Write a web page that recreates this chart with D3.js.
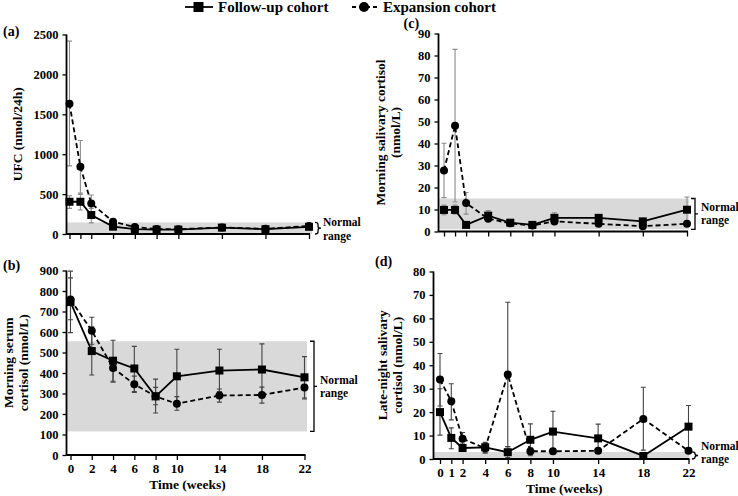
<!DOCTYPE html>
<html><head><meta charset="utf-8">
<script src="https://cdn.jsdelivr.net/npm/d3@7"></script>
<style>
html,body{margin:0;padding:0;background:#fff;}
svg{display:block;}
svg text{font-family:"Liberation Serif","Times New Roman",serif;font-weight:bold;}
</style></head>
<body><svg id="chart" width="738" height="496"></svg>
<script>
// ---------- DATA ----------
const weeksACD = [0, 1, 2, 4, 6, 8, 10, 14, 18, 22];
const weeksB = [0, 2, 4, 6, 8, 10, 14, 18, 22];
const seriesNames = ["Follow-up cohort", "Expansion cohort"];

// (a) UFC (nmol/24h)
const ufcFollow = [404, 404, 238, 92, 62, 55, 55, 80, 60, 90];
const ufcFollowLo = [321, 300, 140, 72, 48, 42, 42, 62, 46, 72];
const ufcFollowHi = [479, 496, 320, 112, 78, 68, 68, 98, 74, 108];
const ufcExpansion = [1633, 842, 383, 155, 87, 62, 60, 82, 65, 100];
const ufcExpansionLo = [854, 512, 280, 130, 70, 50, 48, 66, 52, 82];
const ufcExpansionHi = [2417, 1171, 488, 180, 104, 74, 72, 98, 78, 118];
const ufcNormal = [0, 145];
const ufcTicks = [0, 500, 1000, 1500, 2000, 2500];

// (b) Morning serum cortisol (nmol/L)
const serumFollow = [746, 507, 460, 422, 286, 384, 412, 417, 379];
const serumFollowLo = [597, 390, 360, 310, 205, 252, 310, 292, 278];
const serumFollowHi = [864, 625, 560, 530, 370, 516, 516, 542, 480];
const serumExpansion = [758, 606, 425, 345, 286, 250, 290, 293, 329];
const serumExpansionLo = [660, 540, 355, 305, 245, 218, 258, 253, 273];
const serumExpansionHi = [897, 672, 470, 385, 330, 285, 322, 331, 385];
const serumNormal = [115, 555];
const serumTicks = [0, 100, 200, 300, 400, 500, 600, 700, 800, 900];

// (c) Morning salivary cortisol (nmol/L)
const msFollow = [9.8, 9.8, 3.0, 7.2, 4.0, 3.0, 6.2, 6.2, 4.6, 9.9];
const msFollowLo = [7.6, 8.0, 2.5, 5.0, 3.3, 1.8, 4.3, 5.0, 3.6, 4.2];
const msFollowHi = [12.0, 12.0, 3.5, 9.5, 4.7, 4.5, 8.5, 7.6, 5.6, 15.7];
const msExpansion = [27.7, 48.1, 12.9, 5.8, 3.7, 2.7, 4.6, 3.5, 2.4, 3.5];
const msExpansionLo = [15.4, 13.4, 7.9, 4.6, 3.0, 1.5, 3.6, 2.8, 1.8, 2.8];
const msExpansionHi = [40.1, 82.8, 17.7, 7.0, 4.4, 4.5, 5.6, 4.2, 3.0, 4.2];
const msNormal = [1, 15];
const msTicks = [0, 10, 20, 30, 40, 50, 60, 70, 80, 90];

// (d) Late-night salivary cortisol (nmol/L)
const lnFollow = [20, 9, 4.7, 5, 2.9, 8.2, 11.7, 8.8, 1.3, 13.8];
const lnFollowLo = [10.2, 4.4, 3.2, 2.9, 0.6, 1.4, 3.0, 2.7, 0, 4.8];
const lnFollowHi = [30, 13.3, 6.2, 7.1, 5.2, 15.0, 20.4, 14.9, 2.6, 22.8];
const lnExpansion = [33.9, 24.6, 8.6, 4.6, 36.1, 3.3, 3.3, 3.5, 17.1, 3.5];
const lnExpansionLo = [22.6, 16.7, 6.4, 2.5, 5.3, 1.8, 2.3, 2.5, 3.8, 2.5];
const lnExpansionHi = [45, 32.1, 11.3, 6.5, 66.9, 4.8, 4.3, 4.5, 30.6, 4.5];
const lnNormal = [0, 3];
const lnTicks = [0, 10, 20, 30, 40, 50, 60, 70, 80];

const normalLabel = ["Normal", "range"];
const xTitle = "Time (weeks)";

// ---------- LAYOUT ----------
const svg = d3.select("#chart");
const FONT_TICK = 12.5;

const panels = [
  { tag: "(a)", tagPos: [3, 36], weeks: weeksACD, fu: [ufcFollow, ufcFollowLo, ufcFollowHi], ex: [ufcExpansion, ufcExpansionLo, ufcExpansionHi],
    normal: ufcNormal, ticks: ufcTicks, yMax: 2500, axisX: 66.5, xr: [69.5, 309], yr: [234, 34.5], bandRight: 312,
    xLabels: false, ylab: ["UFC (nmol/24h)"], ylabX: 17, errColor: "#8c8c8c", bracket: "brace", brX: 315, txtX: 323 },
  { tag: "(b)", tagPos: [3, 270], weeks: weeksB, fu: [serumFollow, serumFollowLo, serumFollowHi], ex: [serumExpansion, serumExpansionLo, serumExpansionHi],
    normal: serumNormal, ticks: serumTicks, yMax: 900, axisX: 66.5, xr: [70.5, 304.5], yr: [455, 270.5], bandRight: 307,
    xLabels: true, ylab: ["Morning serum", "cortisol (nmol/L)"], ylabX: 8, errColor: "#444", bracket: "square", brX: 314, txtX: 320 },
  { tag: "(c)", tagPos: [403.5, 28], weeks: weeksACD, fu: [msFollow, msFollowLo, msFollowHi], ex: [msExpansion, msExpansionLo, msExpansionHi],
    normal: msNormal, ticks: msTicks, yMax: 90, axisX: 438.5, xr: [444, 687], yr: [231.5, 33.5], bandRight: 689,
    xLabels: false, ylab: ["Morning salivary cortisol", "(nmol/L)"], ylabX: 380, errColor: "#8c8c8c", bracket: "square", brX: 695, txtX: 701 },
  { tag: "(d)", tagPos: [375, 266], weeks: weeksACD, fu: [lnFollow, lnFollowLo, lnFollowHi], ex: [lnExpansion, lnExpansionLo, lnExpansionHi],
    normal: lnNormal, ticks: lnTicks, yMax: 80, axisX: 433.5, xr: [440, 688.5], yr: [459, 271.5], bandRight: 689,
    xLabels: true, ylab: ["Late-night salivary", "cortisol (nmol/L)"], ylabX: 382, errColor: "#444", bracket: "brace", brX: 692, txtX: 701 }
];

function bracePath(x, y1, y2, w) {
  const ym = (y1 + y2) / 2, q = Math.min(2, (y2 - y1) / 4);
  return `M${x},${y1} Q${x + w / 2},${y1} ${x + w / 2},${y1 + q} L${x + w / 2},${ym - q} Q${x + w / 2},${ym} ${x + w},${ym}` +
         ` Q${x + w / 2},${ym} ${x + w / 2},${ym + q} L${x + w / 2},${y2 - q} Q${x + w / 2},${y2} ${x},${y2}`;
}

panels.forEach(p => {
  const g = svg.append("g");
  const x = d3.scaleLinear().domain([0, 22]).range(p.xr);
  const y = d3.scaleLinear().domain([0, p.yMax]).range(p.yr);

  // normal range band
  g.append("rect").attr("x", p.axisX).attr("width", p.bandRight - p.axisX)
    .attr("y", y(p.normal[1])).attr("height", y(p.normal[0]) - y(p.normal[1]))
    .attr("fill", "#d9d9d9");

  // bracket
  const yTop = y(p.normal[1]), yBot = y(p.normal[0]);
  if (p.bracket === "brace") {
    g.append("path").attr("d", bracePath(p.brX, yTop, yBot, 6)).attr("fill", "none").attr("stroke", "#000").attr("stroke-width", 1.3);
  } else {
    const ym = (yTop + yBot) / 2;
    g.append("path").attr("d", `M${p.brX - 4},${yTop} H${p.brX} V${yBot} H${p.brX - 4} M${p.brX},${ym} H${p.brX + 3}`)
      .attr("fill", "none").attr("stroke", "#000").attr("stroke-width", 1.3);
  }
  const tyMid = (yTop + yBot) / 2;
  let ty1 = tyMid - 6.5, ty2 = tyMid + 6.5;
  if (p.bracket === "brace") { ty1 = yTop + (p.tag === "(a)" ? 0 : -6); ty2 = ty1 + 13.5; }
  g.append("text").attr("x", p.txtX).attr("y", ty1).attr("dy", "0.35em").attr("font-size", 11.5).text(normalLabel[0]);
  g.append("text").attr("x", p.txtX).attr("y", ty2).attr("dy", "0.35em").attr("font-size", 11.5).text(normalLabel[1]);

  // error bars
  const drawErr = (vals) => {
    const [m, lo, hi] = vals;
    const eg = g.append("g").attr("stroke", p.errColor).attr("stroke-width", 1.1).attr("fill", "none");
    p.weeks.forEach((w, i) => {
      const cx = x(w);
      eg.append("path").attr("d", `M${cx},${y(lo[i])} V${y(hi[i])} M${cx - 2.5},${y(lo[i])} H${cx + 2.5} M${cx - 2.5},${y(hi[i])} H${cx + 2.5}`);
    });
  };
  drawErr(p.ex); drawErr(p.fu);

  // lines
  const line = d3.line().x((d, i) => x(p.weeks[i])).y(d => y(d));
  g.append("path").datum(p.ex[0]).attr("d", line).attr("fill", "none").attr("stroke", "#000")
    .attr("stroke-width", 1.8).attr("stroke-dasharray", "5,3");
  g.append("path").datum(p.fu[0]).attr("d", line).attr("fill", "none").attr("stroke", "#000").attr("stroke-width", 1.8);

  // markers
  g.selectAll(null).data(p.ex[0]).join("circle").attr("cx", (d, i) => x(p.weeks[i])).attr("cy", d => y(d)).attr("r", 4).attr("fill", "#000");
  g.selectAll(null).data(p.fu[0]).join("rect").attr("x", (d, i) => x(p.weeks[i]) - 4).attr("y", d => y(d) - 4)
    .attr("width", 8).attr("height", 8).attr("fill", "#000");

  // y axis
  const yAxis = d3.axisLeft(y).tickValues(p.ticks).tickSize(4).tickSizeOuter(0).tickFormat(d3.format("d")).tickPadding(4);
  const ya = g.append("g").attr("transform", `translate(${p.axisX},0)`).call(yAxis).attr("font-family", null).attr("font-size", null);
  ya.select(".domain").remove();
  ya.selectAll("text").attr("font-size", FONT_TICK).attr("fill", "#000");
  ya.selectAll("line").attr("stroke", "#000").attr("stroke-width", 1.3);
  g.append("line").attr("x1", p.axisX).attr("x2", p.axisX).attr("y1", p.yr[1]).attr("y2", p.yr[0] + 0.6).attr("stroke", "#000").attr("stroke-width", 1.8);

  // x axis
  const xAxis = d3.axisBottom(x).tickValues(p.weeks).tickSize(5).tickSizeOuter(0).tickPadding(4)
    .tickFormat(p.xLabels ? d3.format("d") : () => "");
  const xa = g.append("g").attr("transform", `translate(0,${p.yr[0]})`).call(xAxis).attr("font-family", null).attr("font-size", null);
  xa.select(".domain").remove();
  xa.selectAll("text").attr("font-size", FONT_TICK + 0.5).attr("fill", "#000");
  xa.selectAll("line").attr("stroke", "#000").attr("stroke-width", 1.3);
  g.append("line").attr("x1", p.axisX).attr("x2", p.xr[1] + 1).attr("y1", p.yr[0]).attr("y2", p.yr[0]).attr("stroke", "#000").attr("stroke-width", 1.8);

  if (p.xLabels) {
    g.append("text").attr("x", (p.xr[0] + p.xr[1]) / 2).attr("y", p.yr[0] + 34).attr("text-anchor", "middle")
      .attr("font-size", 13.5).text(xTitle);
  }

  // y label
  const cy = (p.yr[0] + p.yr[1]) / 2;
  p.ylab.forEach((t, k) => {
    g.append("text").attr("transform", `translate(${p.ylabX + k * 15},${cy}) rotate(-90)`).attr("text-anchor", "middle")
      .attr("dy", "0.35em").attr("font-size", 13.5).text(t);
  });

  // panel tag
  g.append("text").attr("x", p.tagPos[0]).attr("y", p.tagPos[1]).attr("font-size", 14).text(p.tag);
});

// ---------- LEGEND ----------
const lg = svg.append("g");
lg.append("line").attr("x1", 185).attr("x2", 213).attr("y1", 7).attr("y2", 7).attr("stroke", "#000").attr("stroke-width", 1.8);
lg.append("rect").attr("x", 198.5 - 5).attr("y", 2).attr("width", 10).attr("height", 10).attr("fill", "#000");
lg.append("text").attr("x", 218).attr("y", 12).attr("font-size", 15).text(seriesNames[0]);
lg.append("line").attr("x1", 352).attr("x2", 380).attr("y1", 7).attr("y2", 7).attr("stroke", "#000").attr("stroke-width", 1.8).attr("stroke-dasharray", "4,3");
lg.append("circle").attr("cx", 364).attr("cy", 7).attr("r", 5).attr("fill", "#000");
lg.append("text").attr("x", 383).attr("y", 12).attr("font-size", 15).text(seriesNames[1]);
</script></body></html>
